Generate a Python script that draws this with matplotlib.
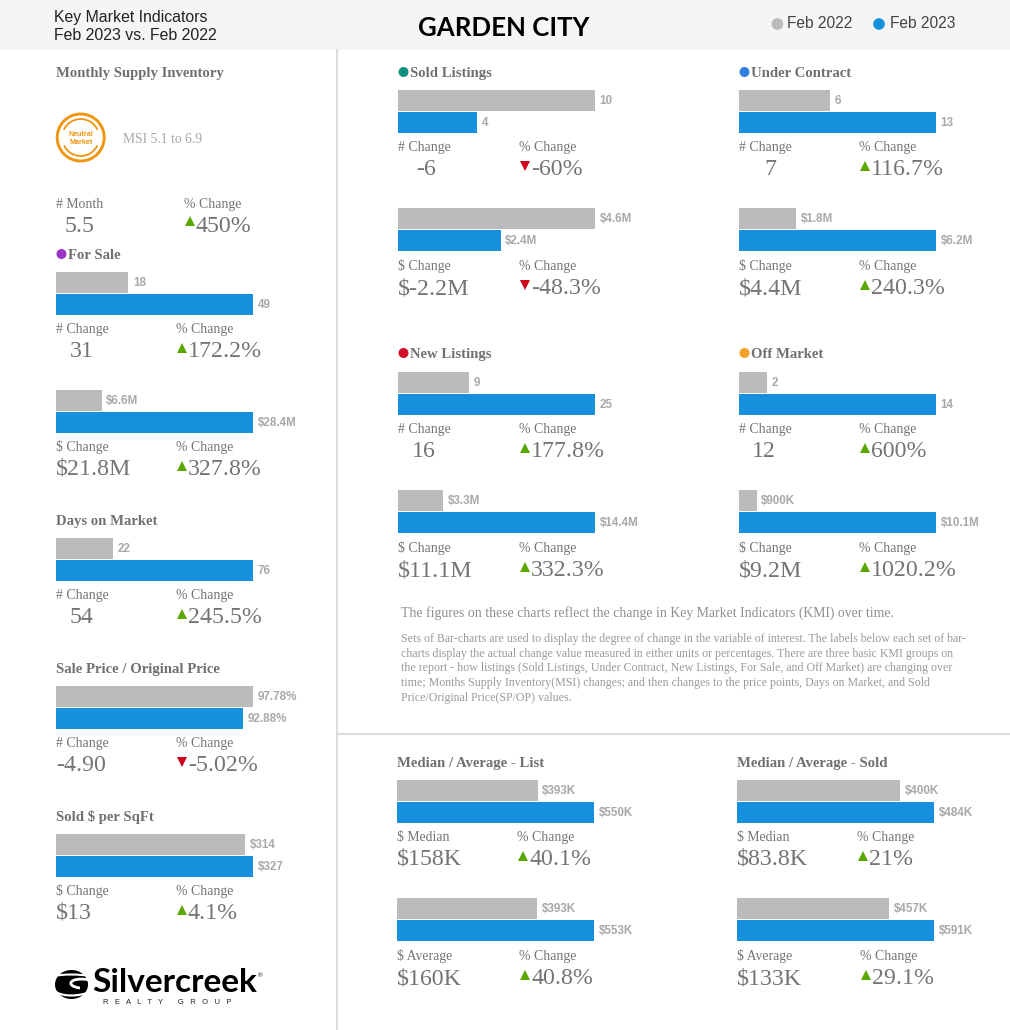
import matplotlib
matplotlib.use("Agg")
import matplotlib.pyplot as plt
from matplotlib.patches import Arc, Circle, Ellipse, PathPatch, Rectangle
from matplotlib.path import Path

W, H = 1010, 1030

# values
prev_values = [18, 6.6, 22, 97.78, 314, 10, 4.6, 6, 1.8, 9, 3.3, 2, 0.9, 393, 393, 400, 457]
curr_values = [49, 28.4, 76, 92.88, 327, 4, 2.4, 13, 6.2, 25, 14.4, 14, 10.1, 550, 553, 484, 591]
prev_labels = ["18", "$6.6M", "22", "97.78%", "$314", "10", "$4.6M", "6", "$1.8M", "9", "$3.3M",
               "2", "$900K", "$393K", "$393K", "$400K", "$457K"]
curr_labels = ["49", "$28.4M", "76", "92.88%", "$327", "4", "$2.4M", "13", "$6.2M", "25", "$14.4M",
               "14", "$10.1M", "$550K", "$553K", "$484K", "$591K"]
stat_names = ["# Change", "$ Change", "# Change", "# Change", "$ Change", "# Change", "$ Change",
              "# Change", "$ Change", "# Change", "$ Change", "# Change", "$ Change",
              "$ Median", "$ Average", "$ Median", "$ Average"]
change_labels = ["31", "$21.8M", "54", "-4.90", "$13", "-6", "$-2.2M", "7", "$4.4M", "16", "$11.1M",
                 "12", "$9.2M", "$158K", "$160K", "$83.8K", "$133K"]
pct_labels = ["172.2%", "327.8%", "245.5%", "-5.02%", "4.1%", "-60%", "-48.3%", "116.7%", "240.3%",
              "177.8%", "332.3%", "600%", "1020.2%", "40.1%", "40.8%", "21%", "29.1%"]

# layout of the panels, in reference pixels
panel_left = [56, 56, 56, 56, 56, 398, 398, 739, 739, 398, 398, 739, 739, 397, 397, 737, 737]
panel_top = [272, 390, 538, 686, 834, 90, 208, 90, 208, 372, 490, 372, 490, 780, 898, 780, 898]
value_indent = [14, 0, 14, 0, 0, 18, 0, 25, 0, 14, 0, 13, 0, 0, 0, 0, 0]
pct_shift = [0, 0, 0, 0, 0, 1, 1, 0, 0, 1, 1, 0, 0, 0, 2, 0, 3]
stat_drop = [0, 0, 0, 0, 0, 0, 1, 0, 1, 0, 1, 0, 1, 0, 1, 0, 1]

section_titles = ["For Sale", "Days on Market", "Sale Price / Original Price", "Sold $ per SqFt",
                  "Sold Listings", "Under Contract", "New Listings", "Off Market",
                  "Median / Average - List", "Median / Average - Sold"]
section_x = [56, 56, 56, 56, 398, 739, 398, 739, 397, 737]
section_y = [254, 520, 668, 816, 72, 72, 353, 353, 762, 762]
section_dots = ["#9b35c9", None, None, None, "#0f8f80", "#2f7fe0", "#d0112b", "#f2a126", None, None]

note_lines = [
    "Sets of Bar-charts are used to display the degree of change in the variable of interest. The labels below each set of bar-",
    "charts display the actual change value measured in either units or percentages. There are three basic KMI groups on",
    "the report - how listings (Sold Listings, Under Contract, New Listings, For Sale, and Off Market) are changing over",
    "time; Months Supply Inventory(MSI) changes; and then changes to the price points, Days on Market, and Sold",
    "Price/Original Price(SP/OP) values.",
]

GREY_BAR = "#bbbbbb"
BLUE_BAR = "#1690dc"
UP = "#5aa700"
DOWN = "#d0021b"
SERIF = "Liberation Serif"
SANS = "Liberation Sans"
LABEL_GREY = "#747474"
VALUE_GREY = "#747474"
TITLE_GREY = "#707070"

fig = plt.figure(figsize=(W / 100, H / 100), dpi=100, facecolor="white")

# full page axes in pixel units for text and decoration
page = fig.add_axes([0, 0, 1, 1])
page.set_xlim(0, W)
page.set_ylim(H, 0)
page.axis("off")


def triangle(x, y, up=True):
    page.plot([x], [y], marker="^" if up else "v", ms=7.5, mew=0,
              color=UP if up else DOWN, ls="none")


def stat_block(x, y, name, value, pct, indent=0, shift=0):
    px = x + 120 + shift
    page.text(x, y + 5, name, family=SERIF, fontsize=9.9, color=LABEL_GREY)
    page.text(x + indent, y + 29, value, family=SERIF, fontsize=17.2, color=VALUE_GREY)
    page.text(px, y + 5, "% Change", family=SERIF, fontsize=9.9, color=LABEL_GREY)
    down = pct.startswith("-")
    triangle(px + 5.5, y + 19.5, not down)
    page.text(px + 12, y + 29, pct, family=SERIF, fontsize=17.2, color=VALUE_GREY)


def bar_panel(i):
    left, top = panel_left[i], panel_top[i]
    box = [left / W, 1 - (top + 43.4) / H, 197 / W, 44 / H]
    ax = fig.add_axes(box)
    ax.patch.set_alpha(0)
    ax.axis("off")
    vals = [prev_values[i], curr_values[i]]
    labels = [prev_labels[i], curr_labels[i]]
    ax.barh([0, 1], vals, height=0.95, color=[GREY_BAR, BLUE_BAR])
    ax.set_xlim(0, max(vals))
    ax.set_ylim(1.5, -0.5)
    for pos, (v, lab) in enumerate(zip(vals, labels)):
        ax.annotate(lab, (v, pos), xytext=(3.3, -2.6), textcoords="offset points", family=SANS,
                    fontweight="bold", fontsize=8.4, color="#a8a8a8",
                    annotation_clip=False)
    stat_block(left, top + 56 + stat_drop[i], stat_names[i], change_labels[i], pct_labels[i],
               value_indent[i], pct_shift[i])


# header band
page.add_patch(Rectangle((0, 0), W, 50, color="#f5f5f5", lw=0))
page.text(54.5, 22, "Key Market Indicators", family=SANS, fontsize=11.4, color="#222222")
page.text(54.5, 40, "Feb 2023 vs. Feb 2022", family=SANS, fontsize=11.4, color="#222222")
page.text(504, 36, "GARDEN CITY", family="Lato", fontweight="bold", fontsize=18.6, color="black",
          ha="center")
page.add_patch(Circle((777.4, 24), 5.8, color=GREY_BAR, lw=0))
page.text(787, 28.3, "Feb 2022", family=SANS, fontsize=11.2, color="#444444")
page.add_patch(Circle((879, 24), 5.8, color=BLUE_BAR, lw=0))
page.text(889.5, 28.3, "Feb 2023", family=SANS, fontsize=11.2, color="#444444")

# dividers
page.plot([336.5, 336.5], [50, H], color="#d9d9d9", lw=1.3)
page.plot([337, W], [734, 734], color="#d9d9d9", lw=1.3)

# monthly supply inventory block
page.text(56, 77, "Monthly Supply Inventory", family=SERIF, fontweight="bold", fontsize=10.65,
          color=TITLE_GREY)
orange = "#f0950f"
page.add_patch(Circle((80.7, 137.5), 23.5, fill=False, ec=orange, lw=2.1))
page.add_patch(Arc((80.7, 137.5), 37, 37, theta1=25, theta2=155, color=orange, lw=1.3))
page.add_patch(Arc((80.7, 137.5), 37, 37, theta1=205, theta2=335, color=orange, lw=1.3))
page.text(81, 136.5, "Neutral", family=SANS, fontweight="bold", fontsize=5.1, color=orange, ha="center")
page.text(81, 144, "Market", family=SANS, fontweight="bold", fontsize=5.1, color=orange, ha="center")
page.text(123, 143.3, "MSI 5.1 to 6.9", family=SERIF, fontsize=9.8, color="#a8a8a8")
page.text(56, 207.7, "# Month", family=SERIF, fontsize=9.9, color=LABEL_GREY)
page.text(65, 231.7, "5.5", family=SERIF, fontsize=17.2, color=VALUE_GREY)
page.text(184, 207.7, "% Change", family=SERIF, fontsize=9.9, color=LABEL_GREY)
triangle(190, 221.3)
page.text(195, 231.7, "450%", family=SERIF, fontsize=17.2, color=VALUE_GREY)

# section headings with their coloured dots
for title, x, y, dot in zip(section_titles, section_x, section_y, section_dots):
    if dot:
        page.add_patch(Circle((x + 5.5, y), 5, color=dot, lw=0))
        x = x + 12
    page.text(x, y + 5, title, family=SERIF, fontweight="bold", fontsize=10.65, color=TITLE_GREY)

for i in range(len(prev_values)):
    bar_panel(i)

# explanatory notes
page.text(401, 617.3, "The figures on these charts reflect the change in Key Market Indicators (KMI) over time.",
          family=SERIF, fontsize=9.9, color="#8f8f8f")
for line, y in zip(note_lines, [641.7, 656.7, 671.5, 686, 700.7]):
    page.text(401, y, line, family=SERIF, fontsize=8.53, color="#9a9a9a")

# company logo
page.add_patch(Ellipse((71.5, 984.5), 33, 29, color="black", lw=0))
codes = [Path.MOVETO, Path.CURVE4, Path.CURVE4, Path.CURVE4]
for pts, lw in [([(54, 976), (64, 974), (78, 974), (90, 976)], 1.5),
                ([(90, 980), (70, 976), (64, 986), (80, 988)], 2.0),
                ([(53, 990), (62, 998), (80, 996), (90, 992)], 1.6)]:
    page.add_patch(PathPatch(Path(pts, codes), fill=False, ec="white", lw=lw))
page.text(92.5, 992, "Silvercreek", family="Lato", fontweight="bold", fontsize=24, color="black")
page.text(258, 977, "®", family=SANS, fontsize=4.5, color="black")
page.text(103, 1003.5, "R   E   A   L   T   Y       G   R   O   U   P", family=SANS, fontsize=5.5,
          color="#222222")

fig.savefig("out.png", dpi=100, facecolor="white")
